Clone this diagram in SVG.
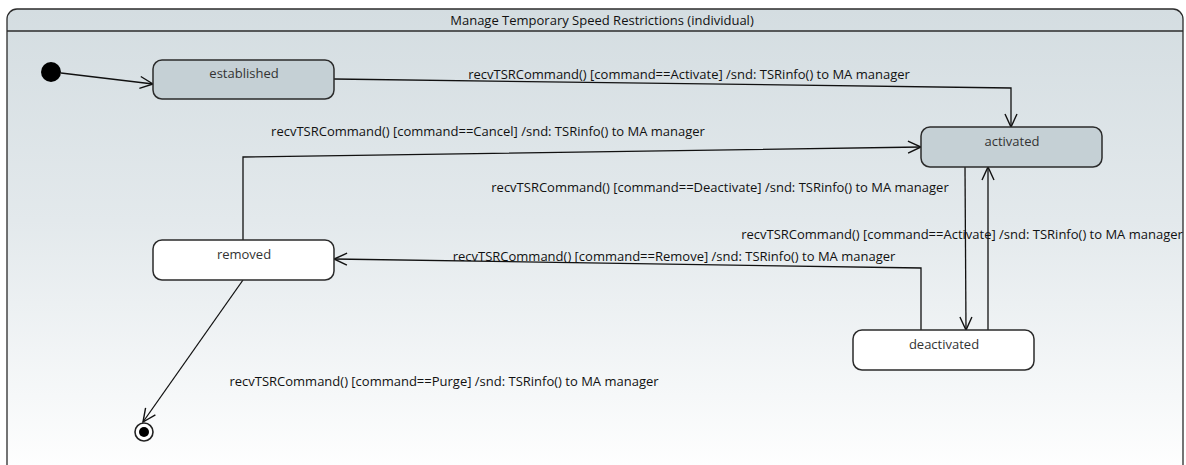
<svg xmlns="http://www.w3.org/2000/svg" width="1186" height="465" viewBox="0 0 1186 465">
<defs>
<linearGradient id="bg" x1="0" y1="0" x2="0" y2="1">
<stop offset="0" stop-color="#d4dde1"/>
<stop offset="0.45" stop-color="#e3e9ec"/>
<stop offset="1" stop-color="#ffffff"/>
</linearGradient>
<marker id="open" markerUnits="userSpaceOnUse" markerWidth="16" markerHeight="14" viewBox="0 0 16 14" refX="14" refY="7" orient="auto">
<path d="M1,1 L14,7 L1,13" fill="none" stroke="#111" stroke-width="1.4"/>
</marker>
<style>
.frame{fill:url(#bg);stroke:#2b2b2b;stroke-width:1.3}
.hdr{stroke:#2b2b2b;stroke-width:1.3}
.st{stroke:#2b2b2b;stroke-width:1.5}
.grey{fill:#c5d0d5}
.white{fill:#ffffff}
.name{font-family:"Open Sans","Noto Sans","Liberation Sans",sans-serif;font-size:13px;fill:#333;text-anchor:middle}
.lbl{font-family:"Open Sans","Noto Sans","Liberation Sans",sans-serif;font-size:13px;fill:#111;text-anchor:middle}
.title{font-family:"Open Sans","Noto Sans","Liberation Sans",sans-serif;font-size:13px;fill:#111;text-anchor:middle}
.edge{fill:none;stroke:#111;stroke-width:1.3;marker-end:url(#open)}
</style>
</defs>
<g id="frame">
<rect class="frame" x="7" y="9" width="1176" height="470" rx="10"/>
<line class="hdr" x1="7" y1="31" x2="1183" y2="31"/>
<text class="title" x="602" y="25">Manage Temporary Speed Restrictions (individual)</text>
</g>
<g id="connectors">
<path class="edge" d="M61,73 L153,84"/>
<path class="edge" d="M334,79 L1011,88 L1011,127"/>
<path class="edge" d="M243,240 L243,157 L921,147"/>
<path class="edge" d="M965,167 L966,330"/>
<path class="edge" d="M988,330 L988,167"/>
<path class="edge" d="M921,330 L921,268 L334,259"/>
<path class="edge" d="M243,280 L143,422"/>
<text class="lbl" x="689" y="79">recvTSRCommand() [command==Activate] /snd: TSRinfo() to MA manager</text>
<text class="lbl" x="488" y="136">recvTSRCommand() [command==Cancel] /snd: TSRinfo() to MA manager</text>
<text class="lbl" x="720" y="192">recvTSRCommand() [command==Deactivate] /snd: TSRinfo() to MA manager</text>
<text class="lbl" x="962" y="239">recvTSRCommand() [command==Activate] /snd: TSRinfo() to MA manager</text>
<text class="lbl" x="674" y="261">recvTSRCommand() [command==Remove] /snd: TSRinfo() to MA manager</text>
<text class="lbl" x="444" y="386">recvTSRCommand() [command==Purge] /snd: TSRinfo() to MA manager</text>
</g>
<g id="initial">
<circle cx="51" cy="72" r="10" fill="#000"/>
</g>
<g id="established">
<rect class="st grey" x="153" y="60" width="181" height="39" rx="9"/>
<text class="name" x="244" y="78">established</text>
</g>
<g id="activated">
<rect class="st grey" x="921" y="127" width="181" height="40" rx="9"/>
<text class="name" x="1012" y="146">activated</text>
</g>
<g id="removed">
<rect class="st white" x="153" y="240" width="181" height="40" rx="9"/>
<text class="name" x="244" y="259">removed</text>
</g>
<g id="deactivated">
<rect class="st white" x="853" y="330" width="181" height="40" rx="9"/>
<text class="name" x="944" y="349">deactivated</text>
</g>
<g id="final">
<circle cx="144" cy="432" r="9" fill="#fff" stroke="#222" stroke-width="1.6"/>
<circle cx="144" cy="432" r="5" fill="#000"/>
</g>
</svg>
